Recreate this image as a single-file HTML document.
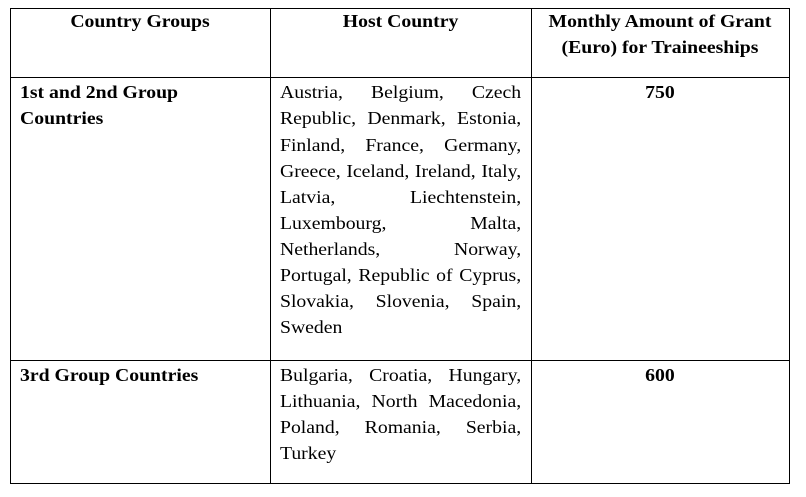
<!DOCTYPE html>
<html>
<head>
<meta charset="utf-8">
<style>
  html, body { margin:0; padding:0; background:#fff; }
  body { width:806px; height:497px; position:relative; overflow:hidden; }
  .h { position:absolute; height:1px; background:#000; }
  .v { position:absolute; width:1px; background:#000; }
  .layer { position:absolute; left:0; top:0; width:806px; height:497px;
           transform:scaleX(1.115); transform-origin:0 0;
           font-family:"Liberation Serif", "Times New Roman", serif; font-size:17.7px;
           line-height:26.1px; color:#000; }
  .t { position:absolute; white-space:nowrap; }
  .b { font-weight:bold; }
  .c { text-align:center; }
  .j { text-align:justify; text-align-last:justify; width:216.3px; }
  .l { text-align:left; width:216.3px; }
</style>
</head>
<body>
  <!-- borders -->
  <div class="h" style="left:10px; top:8px; width:780px;"></div>
  <div class="h" style="left:10px; top:77px; width:780px;"></div>
  <div class="h" style="left:10px; top:360px; width:780px;"></div>
  <div class="h" style="left:10px; top:483px; width:780px;"></div>
  <div class="v" style="left:10px; top:8px; height:476px;"></div>
  <div class="v" style="left:270px; top:8px; height:476px;"></div>
  <div class="v" style="left:531px; top:8px; height:476px;"></div>
  <div class="v" style="left:789px; top:8px; height:476px;"></div>

  <div class="layer">
    <!-- header -->
    <div class="t b c" style="left:8.97px; width:233.2px; top:7.6px;">Country Groups</div>
    <div class="t b c" style="left:242.2px; width:234.1px; top:7.6px;">Host Country</div>
    <div class="t b c" style="left:476.2px; width:231.4px; top:7.6px;">Monthly Amount of Grant<br>(Euro) for Traineeships</div>

    <!-- row 2 -->
    <div class="t b" style="left:17.94px; top:79.4px;">1st and 2nd Group<br>Countries</div>
    <div class="t" style="left:251.1px; top:79.4px;">
      <div class="j">Austria, Belgium, Czech</div>
      <div class="j">Republic, Denmark, Estonia,</div>
      <div class="j">Finland, France, Germany,</div>
      <div class="j">Greece, Iceland, Ireland, Italy,</div>
      <div class="j">Latvia, Liechtenstein,</div>
      <div class="j">Luxembourg, Malta,</div>
      <div class="j">Netherlands, Norway,</div>
      <div class="j">Portugal, Republic of Cyprus,</div>
      <div class="j">Slovakia, Slovenia, Spain,</div>
      <div class="l">Sweden</div>
    </div>
    <div class="t b c" style="left:476.2px; width:231.4px; top:79.4px;">750</div>

    <!-- row 3 -->
    <div class="t b" style="left:17.94px; top:362px;">3rd Group Countries</div>
    <div class="t" style="left:251.1px; top:362px;">
      <div class="j">Bulgaria, Croatia, Hungary,</div>
      <div class="j">Lithuania, North Macedonia,</div>
      <div class="j">Poland, Romania, Serbia,</div>
      <div class="l">Turkey</div>
    </div>
    <div class="t b c" style="left:476.2px; width:231.4px; top:362px;">600</div>
  </div>
</body>
</html>
